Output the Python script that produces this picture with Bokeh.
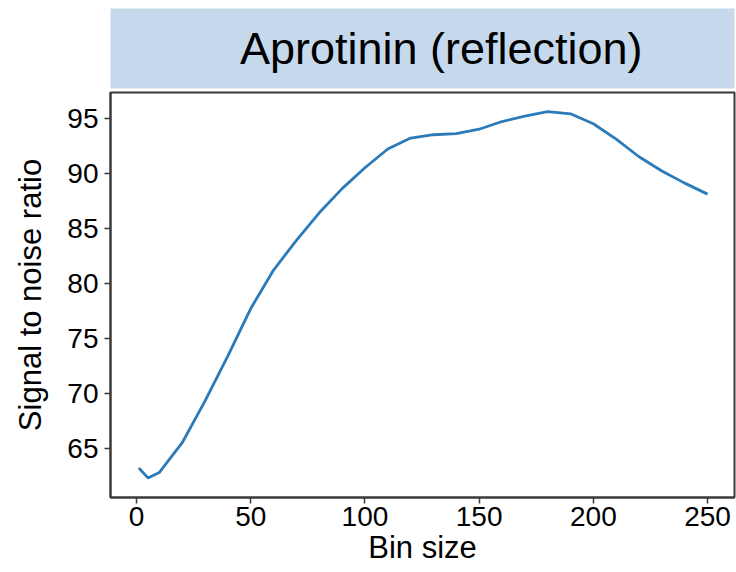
from bokeh.plotting import figure
from bokeh.layouts import column
from bokeh.models import FixedTicker, Range1d, ColumnDataSource
from bokeh.core.properties import value
from bokeh.embed import file_html
from bokeh.resources import INLINE

bin_size = [1, 5, 10, 20, 30, 40, 50, 60, 70, 80, 90, 100, 110, 120, 130, 140,
            150, 160, 170, 180, 190, 200, 210, 220, 230, 240, 250]
snr = [63.2, 62.3, 62.8, 65.5, 69.3, 73.4, 77.7, 81.2, 83.9, 86.4, 88.6, 90.5,
       92.2, 93.2, 93.5, 93.6, 94.0, 94.7, 95.2, 95.6, 95.4, 94.5, 93.1, 91.5,
       90.2, 89.1, 88.1]
x_ticks = [0, 50, 100, 150, 200, 250]
y_ticks = [65, 70, 75, 80, 85, 90, 95]
panel_title = "Aprotinin (reflection)"
x_label = "Bin size"
y_label = "Signal to noise ratio"

FONT = "Liberation Sans"
BORDER = "#3a3a3a"
STRIP = "#c6d9ec"
LINE = "#2b7bba"

# strip (facet header)
s = figure(width=736, height=91, output_backend="svg", toolbar_location=None,
           x_range=Range1d(0, 1), y_range=Range1d(0, 1),
           x_axis_location=None, y_axis_location=None,
           min_border_left=110, min_border_right=2, min_border_top=8,
           min_border_bottom=3)
s.background_fill_color = STRIP
s.outline_line_color = None
s.grid.visible = False
s.text(x=[0.53], y=[0.5], text=[panel_title], text_font=value(FONT),
       text_font_size="45px", text_align="center", text_baseline="middle",
       text_color="black")

# main panel
src = ColumnDataSource(dict(x=bin_size, y=snr))
p = figure(width=736, height=481, output_backend="svg", toolbar_location=None,
           x_range=Range1d(-11.4, 261.8), y_range=Range1d(60.52, 97.34),
           min_border_left=110, min_border_right=2, min_border_top=1,
           min_border_bottom=75)
p.line("x", "y", source=src, line_color=LINE, line_width=2.8)
p.grid.visible = False
p.outline_line_color = BORDER
p.outline_line_width = 2
p.xaxis.ticker = FixedTicker(ticks=x_ticks)
p.yaxis.ticker = FixedTicker(ticks=y_ticks)
p.xaxis.axis_label = x_label
p.yaxis.axis_label = y_label
for ax in (p.xaxis, p.yaxis):
    ax.axis_line_color = BORDER
    ax.axis_line_width = 2
    ax.major_tick_line_color = BORDER
    ax.major_tick_line_width = 1.5
    ax.major_tick_out = 6
    ax.major_tick_in = 0
    ax.minor_tick_line_color = None
    ax.major_label_text_font = FONT
    ax.major_label_text_font_size = "28px"
    ax.major_label_text_color = "black"
    ax.axis_label_text_font = FONT
    ax.axis_label_text_font_size = "31px"
    ax.axis_label_text_font_style = "normal"
    ax.axis_label_text_color = "black"
p.xaxis.major_label_standoff = 3
p.xaxis.axis_label_standoff = 1
p.yaxis.major_label_standoff = 6
p.yaxis.axis_label_standoff = 16

layout = column(s, p, spacing=0)
open("out.html", "w").write(file_html(layout, INLINE))
